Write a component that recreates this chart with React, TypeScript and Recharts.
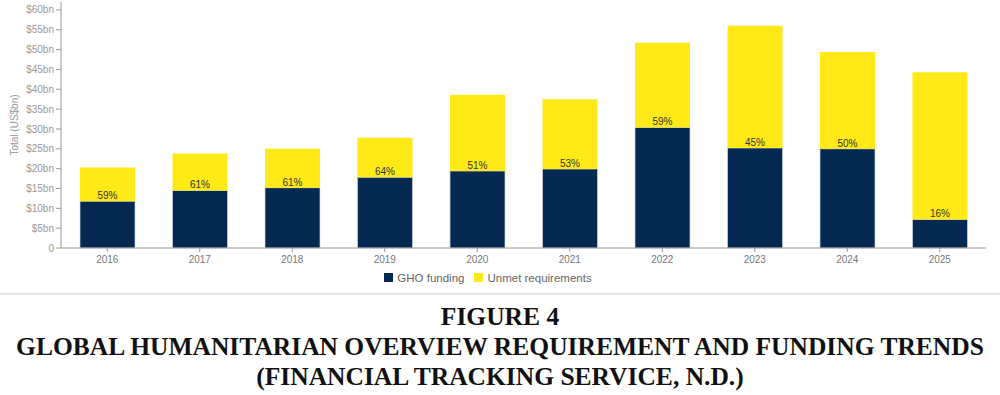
import { BarChart, Bar, XAxis, YAxis, Legend, LabelList } from "recharts";

const years = ["2016", "2017", "2018", "2019", "2020", "2021", "2022", "2023", "2024", "2025"];
// GHO funding received (US$bn)
const funding = [11.8, 14.5, 15.2, 17.8, 19.4, 19.9, 30.4, 25.2, 25.0, 7.2];
// Total requirements (US$bn)
const requirements = [20.3, 23.8, 25.0, 27.8, 38.6, 37.5, 51.7, 56.0, 49.4, 44.3];
const fundedPct = ["59%", "61%", "61%", "64%", "51%", "53%", "59%", "45%", "50%", "16%"];
const yTicks = [0, 5, 10, 15, 20, 25, 30, 35, 40, 45, 50, 55, 60];
const titleLines = [
  "FIGURE 4",
  "GLOBAL HUMANITARIAN OVERVIEW REQUIREMENT AND FUNDING TRENDS",
  "(FINANCIAL TRACKING SERVICE, N.D.)",
];

const NAVY = "#052951";
const YELLOW = "#ffea17";
const GREY = "#999";

const data = years.map((year, i) => ({
  year,
  funded: funding[i],
  unmet: +(requirements[i] - funding[i]).toFixed(1),
  pct: fundedPct[i],
}));

const fmtY = (v: number) => (v === 0 ? "0" : `$${v}bn`);

export default function App() {
  return (
    <div style={{ position: "absolute", left: 0, top: 0, width: 1000, height: 395, background: "#fff" }}>
      <BarChart
        width={1000}
        height={300}
        data={data}
        margin={{ top: 2, right: 14, left: 0, bottom: 9 }}
        style={{ fontFamily: "'Liberation Sans', Arial, sans-serif" }}
      >
        <XAxis
          dataKey="year"
          height={20}
          tick={{ fontSize: 10, fill: "#777" }}
          tickSize={4}
          tickMargin={4}
          stroke={GREY}
        />
        <YAxis
          width={61}
          domain={[0, 62]}
          ticks={yTicks}
          tickFormatter={fmtY}
          tick={{ fontSize: 10, fill: GREY }}
          tickSize={5}
          tickMargin={2}
          stroke={GREY}
          label={{
            value: "Total (US$bn)",
            angle: -90,
            position: "insideLeft",
            offset: 14,
            style: { fontSize: 10, fill: GREY, textAnchor: "middle" },
          }}
        />
        <Legend
          verticalAlign="bottom"
          height={23}
          iconType="square"
          iconSize={9}
          formatter={(value: string) => (
            <span style={{ color: "#666", fontSize: 11.5 }}>{value}</span>
          )}
        />
        <Bar
          dataKey="funded"
          name="GHO funding"
          stackId="a"
          fill={NAVY}
          stroke="#cfd6e0"
          strokeWidth={0.7}
          barSize={55}
          isAnimationActive={false}
        >
          <LabelList dataKey="pct" position="top" offset={2} style={{ fontSize: 10, fill: "#333" }} />
        </Bar>
        <Bar
          dataKey="unmet"
          name="Unmet requirements"
          stackId="a"
          fill={YELLOW}
          barSize={55}
          isAnimationActive={false}
        />
      </BarChart>
      <div style={{ position: "absolute", left: 0, top: 293, width: 1000, height: 2, background: "#e2e2e2" }} />
      <div
        style={{
          position: "absolute",
          left: 0,
          top: 302,
          width: 1000,
          textAlign: "center",
          fontFamily: "'Liberation Serif', 'Times New Roman', serif",
          fontWeight: "bold",
          fontSize: 25.5,
          lineHeight: "30px",
          color: "#111",
        }}
      >
        {titleLines.map((t) => (
          <div key={t}>{t}</div>
        ))}
      </div>
    </div>
  );
}
